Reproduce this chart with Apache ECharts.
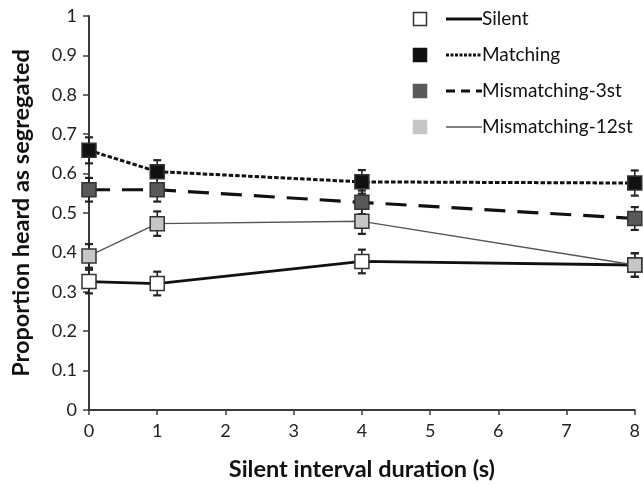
<!DOCTYPE html>
<html><head><meta charset="utf-8">
<script src="https://cdn.jsdelivr.net/npm/echarts@6/dist/echarts.min.js"></script>
<style>html,body{margin:0;padding:0;background:#fff}#c{width:643px;height:486px}</style>
</head><body><div id="c"></div>
<script>
var durations = [0, 1, 4, 8];
var seriesNames = ['Silent', 'Matching', 'Mismatching-3st', 'Mismatching-12st'];
var silent = [0.326, 0.321, 0.377, 0.368];
var matching = [0.659, 0.605, 0.579, 0.576];
var mismatch3 = [0.559, 0.559, 0.527, 0.486];
var mismatch12 = [0.391, 0.473, 0.479, 0.368];
var errSilent = [0.03, 0.03, 0.03, 0.03];
var errMatching = [0.033, 0.029, 0.03, 0.032];
var errMismatch3 = [0.03, 0.03, 0.03, 0.029];
var errMismatch12 = [0.03, 0.031, 0.032, 0.03];

var values = [silent, matching, mismatch3, mismatch12];
var errors = [errSilent, errMatching, errMismatch3, errMismatch12];
var fills = ['#ffffff', '#111111', '#595959', '#c6c6c6'];
var lineStyles = [
  {color: '#111', width: 2.8, type: 'solid'},
  {color: '#111', width: 3, type: [4.5, 2]},
  {color: '#111', width: 3.2, type: [21, 12]},
  {color: '#555', width: 1.3, type: 'solid'}
];
var font = 'Lato, "Open Sans", sans-serif';

var chart = echarts.init(document.getElementById('c'));
var series = [];
values.forEach(function (vals, i) {
  var errData = durations.map(function (d, j) { return [d, vals[j] - errors[i][j], vals[j] + errors[i][j]]; });
  series.push({
    type: 'custom', name: seriesNames[i] + ' err', z: 1, silent: true,
    renderItem: function (params, api) {
      var x = api.value(0);
      var lo = api.coord([x, api.value(1)]);
      var hi = api.coord([x, api.value(2)]);
      var cw = 4;
      var st = {stroke: '#222', lineWidth: 1.6};
      return {type: 'group', children: [
        {type: 'line', shape: {x1: lo[0], y1: lo[1], x2: hi[0], y2: hi[1]}, style: st},
        {type: 'line', shape: {x1: lo[0] - cw, y1: lo[1], x2: lo[0] + cw, y2: lo[1]}, style: {stroke: '#222', lineWidth: 2.2}},
        {type: 'line', shape: {x1: hi[0] - cw, y1: hi[1], x2: hi[0] + cw, y2: hi[1]}, style: {stroke: '#222', lineWidth: 2.2}}
      ]};
    },
    encode: {x: 0, y: [1, 2]},
    data: errData
  });
});
values.forEach(function (vals, i) {
  series.push({
    type: 'line', name: seriesNames[i], z: 3 + i,
    data: durations.map(function (d, j) { return [d, vals[j]]; }),
    symbol: 'rect', symbolSize: 14, showAllSymbol: true,
    itemStyle: {color: fills[i], borderColor: '#333', borderWidth: 1.5},
    lineStyle: lineStyles[i],
    emphasis: {disabled: true},
    animation: false
  });
});

// legend drawn as graphic rows: marker, line sample, text
var legendGraphic = [];
var lx = 420, ly0 = 19, dy = 36;
seriesNames.forEach(function (name, i) {
  var y = ly0 + i * dy;
  legendGraphic.push({type: 'rect', shape: {x: lx - 6.5, y: y - 6.5, width: 13, height: 13},
    style: {fill: fills[i], stroke: i === 0 ? '#333' : fills[i], lineWidth: 1.5}});
  legendGraphic.push({type: 'line', shape: {x1: 446, y1: y, x2: 482, y2: y},
    style: {stroke: lineStyles[i].color, lineWidth: lineStyles[i].width,
      lineDash: i === 1 ? [3, 1.5] : (i === 2 ? [9, 6] : null)}});
  legendGraphic.push({type: 'text', x: 482, y: y, style: {text: name, fill: '#111',
    font: '19px ' + font, textVerticalAlign: 'middle', verticalAlign: 'middle'}});
});

chart.setOption({
  animation: false,
  backgroundColor: '#fff',
  grid: {left: 89, right: 8, top: 16, bottom: 73, containLabel: false},
  xAxis: {
    type: 'value', min: 0, max: 8, interval: 1,
    name: 'Silent interval duration (s)', nameLocation: 'middle', nameGap: 47,
    nameTextStyle: {fontFamily: font, fontWeight: 'bold', fontSize: 23.5, color: '#111'},
    axisLine: {show: true, onZero: false, lineStyle: {color: '#3a3a3a', width: 2}},
    axisTick: {show: true, inside: false, length: 5, lineStyle: {color: '#3a3a3a', width: 1.5}},
    axisLabel: {fontFamily: font, fontSize: 18, color: '#222', margin: 12},
    splitLine: {show: false}
  },
  yAxis: {
    type: 'value', min: 0, max: 1, interval: 0.1,
    name: 'Proportion heard as segregated', nameLocation: 'middle', nameGap: 56, nameRotate: 90,
    nameTextStyle: {fontFamily: font, fontWeight: 'bold', fontSize: 23.5, color: '#111'},
    axisLine: {show: true, onZero: false, lineStyle: {color: '#3a3a3a', width: 2}},
    axisTick: {show: true, inside: false, length: 6, lineStyle: {color: '#3a3a3a', width: 1.5}},
    axisLabel: {fontFamily: font, fontSize: 18, color: '#222', margin: 12},
    splitLine: {show: false}
  },
  graphic: legendGraphic,
  series: series
});
</script></body></html>
